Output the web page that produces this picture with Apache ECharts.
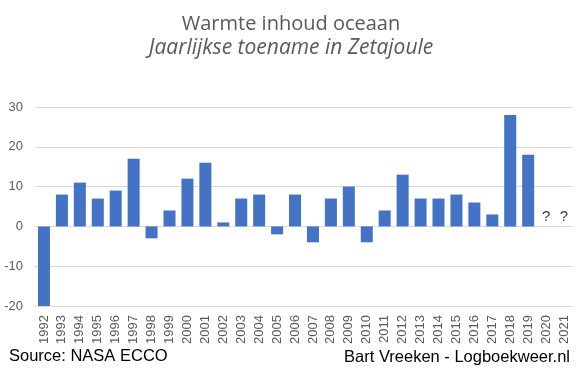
<!DOCTYPE html>
<html><head><meta charset="utf-8">
<script src="https://cdn.jsdelivr.net/npm/echarts@6/dist/echarts.min.js"></script>
<style>html,body{margin:0;padding:0;background:#fff}#c{width:582px;height:374px}</style>
</head><body><div id="c"></div>
<script>
const years = ['1992','1993','1994','1995','1996','1997','1998','1999','2000','2001','2002','2003','2004','2005','2006','2007','2008','2009','2010','2011','2012','2013','2014','2015','2016','2017','2018','2019','2020','2021'];
const increase = [-20,8,11,7,9,17,-3,4,12,16,1,7,8,-2,8,-4,7,10,-4,4,13,7,7,8,6,3,28,18,null,null];
const unknownYears = ['2020','2021'];
const yTicks = {min:-20, max:30, interval:10};
const titleText = 'Warmte inhoud oceaan';
const subtitleText = 'Jaarlijkse toename in Zetajoule';
const sourceText = 'Source: NASA ECCO';
const authorText = 'Bart Vreeken - Logboekweer.nl';

const chart = echarts.init(document.getElementById('c'));
chart.setOption({
  animation:false,
  backgroundColor:'#fff',
  title:[
    {text:titleText, left:'center', top:9, textStyle:{fontFamily:'Open Sans', fontSize:20, fontWeight:'normal', color:'#595959'}},
    {text:subtitleText, left:'center', top:33, textStyle:{fontFamily:'Open Sans', fontSize:21, fontStyle:'italic', fontWeight:'normal', color:'#595959'}}
  ],
  graphic:[
    {type:'text', left:9, top:348, style:{text:sourceText, font:'16.5px "Liberation Sans"', fill:'#000'}},
    {type:'text', right:12, top:349, style:{text:authorText, font:'16.5px "Liberation Sans"', fill:'#000'}}
  ],
  grid:{left:35, right:9, top:107, bottom:68},
  xAxis:{
    type:'category', data:years,
    axisLine:{show:false}, axisTick:{show:false},
    axisLabel:{rotate:90, interval:0, color:'#595959', fontFamily:'Liberation Sans', fontSize:13, margin:9}
  },
  yAxis:{
    type:'value', min:yTicks.min, max:yTicks.max, interval:yTicks.interval,
    axisLine:{show:false}, axisTick:{show:false},
    axisLabel:{color:'#595959', fontFamily:'Liberation Sans', fontSize:13, margin:12},
    splitLine:{lineStyle:{color:'#d9d9d9', width:1}}
  },
  series:[
    {type:'bar', data:increase, barWidth:'67%', itemStyle:{color:'#4472c4'}},
    {type:'scatter', data:unknownYears.map(y=>[y,0]), symbolSize:0,
     label:{show:true, formatter:'?', position:'top', distance:2, color:'#000', fontFamily:'Liberation Sans', fontSize:15}}
  ]
});
</script></body></html>
